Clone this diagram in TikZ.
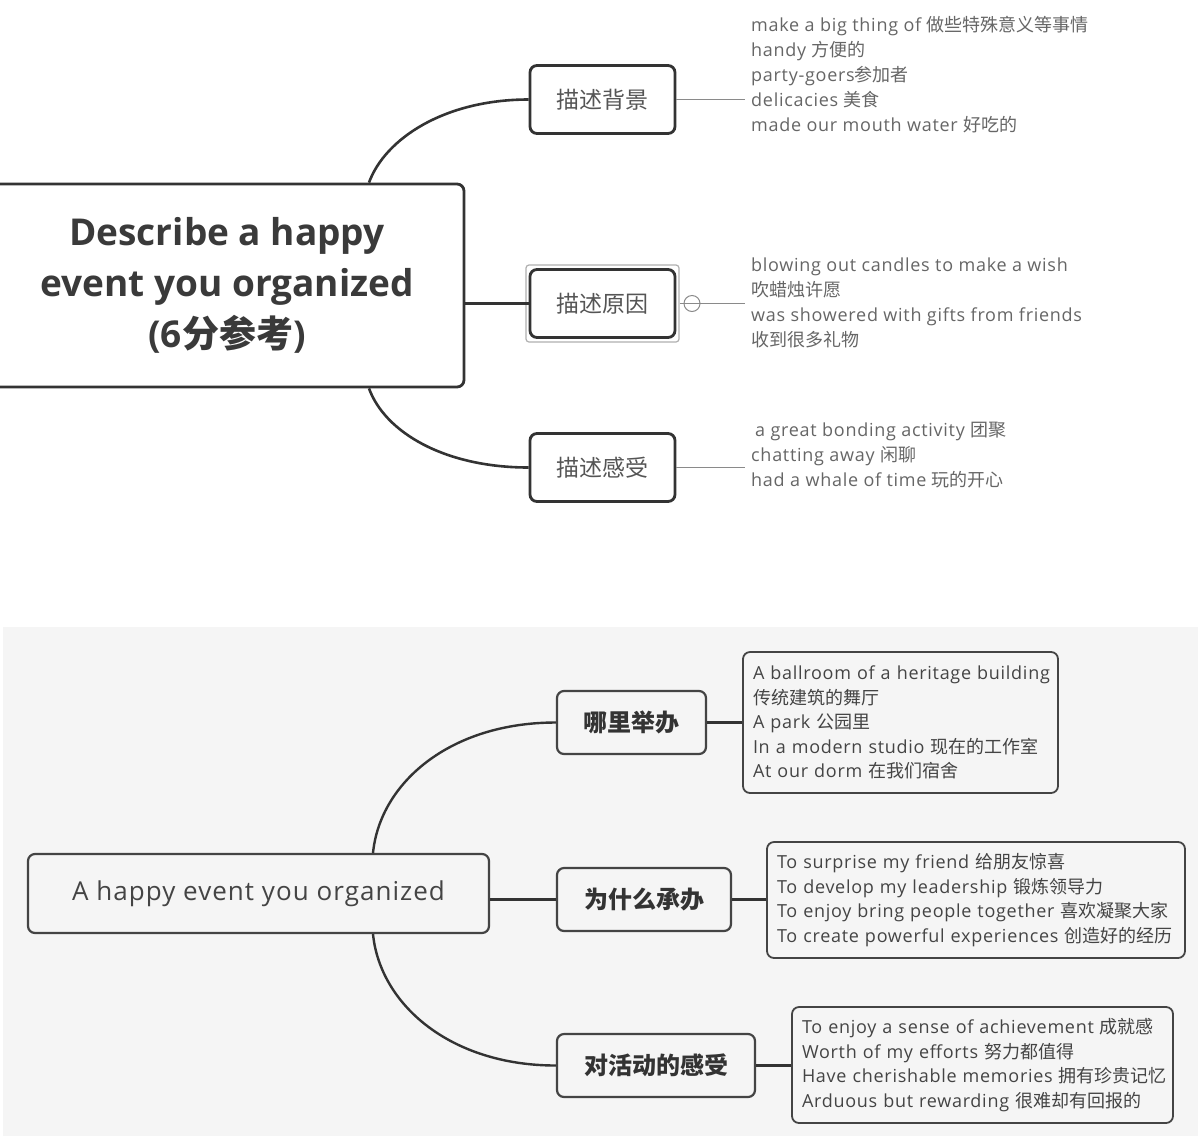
\documentclass[tikz,border=0pt]{standalone}
\usepackage{fontspec}
\setmainfont{Open Sans}
\newfontfamily\spaced{Open Sans}[LetterSpace=4]
\newfontfamily\cjk{Noto Sans CJK SC}
\newcommand\zh[1]{{\cjk #1}}
\definecolor{lnA}{HTML}{333333}
\definecolor{lnB}{HTML}{444444}
\definecolor{thin}{HTML}{8A8A8A}
\definecolor{txtTitle}{HTML}{3A3A3A}
\definecolor{txtTop}{HTML}{555555}
\definecolor{txtSmall}{HTML}{666666}
\definecolor{txtBot}{HTML}{444444}
\definecolor{bgBot}{HTML}{F5F5F5}
\definecolor{selgray}{HTML}{B0B0B0}
\hfuzz=20pt
\begin{document}
\begin{tikzpicture}[x=1pt,y=1pt,
  titlebox/.style={draw=lnA, line width=2.8pt, rounded corners=7pt, fill=white, inner sep=0pt,
    minimum width=474pt, minimum height=203pt, align=center, text=txtTitle,
    font=\bfseries\fontsize{37}{51}\selectfont},
  topbox/.style={draw=lnA, line width=2.8pt, rounded corners=7pt, fill=white, inner sep=0pt,
    minimum width=145pt, minimum height=68pt, text=txtTop, font=\cjk\fontsize{23}{28}\selectfont},
  toptext/.style={anchor=west, align=left, inner xsep=6pt, inner ysep=0pt, text=txtSmall,
    font=\spaced\fontsize{18}{25}\selectfont},
  topconn/.style={draw=lnA, line width=2.6pt},
  thinline/.style={draw=thin, line width=1pt},
  botmain/.style={draw=lnB, line width=2.2pt, rounded corners=7pt, fill=bgBot, inner sep=0pt,
    minimum width=461pt, minimum height=79pt, text=txtBot, font=\spaced\fontsize{26}{30}\selectfont},
  botbox/.style={draw=lnB, line width=2.2pt, rounded corners=7pt, fill=bgBot, inner sep=0pt,
    minimum height=63pt, text=lnA, font=\cjk\bfseries\fontsize{24}{28}\selectfont},
  detbox/.style={draw=lnB, line width=1.8pt, rounded corners=7pt, fill=bgBot, inner xsep=10pt,
    inner ysep=0pt, align=left, text=txtBot, font=\spaced\fontsize{18}{24.5}\selectfont},
  botconn/.style={draw=lnA, line width=2.4pt}]
\useasboundingbox (0,0) rectangle (1198,-1136);
\fill[white] (0,0) rectangle (1198,-1136);
\fill[bgBot] (3,-627) rectangle (1198,-1136);

% ---------------- top mind map ----------------
\node[titlebox] (title) at (227,-285.5) {Describe a happy\\event you organized\\(6\zh{分参考})};
\node[topbox] (tb) at (602.5,-99.5) {描述背景};
\node[topbox] (tr) at (602.5,-303.5) {描述原因};
\node[topbox] (tf) at (602.5,-467.5) {描述感受};
\node[draw=selgray, line width=1.2pt, rounded corners=3pt, minimum width=153pt, minimum height=77pt,
  inner sep=0pt] (trsel) at (602.5,-303.5) {};

\coordinate (tTop) at ([xshift=142pt]title.north);
\coordinate (tBot) at ([xshift=142pt]title.south);
\draw[topconn] (tTop) .. controls +(16,44) and +(-84,0) .. (tb.west);
\draw[topconn] (tBot) .. controls +(16,-44) and +(-84,0) .. (tf.west);
\draw[topconn] (title.east |- tr.west) -- (tr.west);

\node[toptext] (t1) at (745,-75) {make a big thing of \zh{做些特殊意义等事情}\\handy \zh{方便的}\\party-goers\zh{参加者}\\delicacies \zh{美食}\\made our mouth water \zh{好吃的}};
\node[toptext] (t2) at (745,-302.5) {blowing out candles to make a wish\\\zh{吹蜡烛许愿}\\was showered with gifts from friends\\\zh{收到很多礼物}};
\node[toptext] (t3) at (745,-455) {\hspace{4pt}a great bonding activity \zh{团聚}\\chatting away \zh{闲聊}\\had a whale of time \zh{玩的开心}};

\draw[thinline] (tb.east) -- (tb.east -| t1.west);
\draw[thinline] (trsel.east) -- (trsel.east -| t2.west);
\draw[thinline] (tf.east) -- (tf.east -| t3.west);
\node[circle, draw=thin, line width=1pt, minimum size=16pt, inner sep=0pt] (coll) at (692,-303.5) {};
\draw[thinline] (coll.west) -- (coll.east);

% ---------------- bottom mind map ----------------
\node[botmain] (bc) at (258.5,-893.5) {A happy event you organized};
\node[botbox, minimum width=149pt] (b1) at (631.5,-722.5) {哪里举办};
\node[botbox, minimum width=174pt] (b2) at (644,-899.5) {为什么承办};
\node[botbox, minimum width=198pt] (b3) at (656,-1065.5) {对活动的感受};

\node[detbox, text width=295pt, minimum height=141pt] (d1) at (900.5,-722.5)
  {A ballroom of a heritage building\\\zh{传统建筑的舞厅}\\A park \zh{公园里}\\In a modern studio \zh{现在的工作室}\\At our dorm \zh{在我们宿舍}};
\node[detbox, text width=398pt, minimum height=116pt] (d2) at (976,-900)
  {\mbox{To surprise my friend \zh{给朋友惊喜}}\\\mbox{To develop my leadership \zh{锻炼领导力}}\\\mbox{To enjoy bring people together \zh{喜欢凝聚大家}}\\\mbox{To create powerful experiences \zh{创造好的经历}}};
\node[detbox, text width=361pt, minimum height=116pt] (d3) at (982.5,-1065)
  {\mbox{To enjoy a sense of achievement \zh{成就感}}\\\mbox{Worth of my efforts \zh{努力都值得}}\\\mbox{Have cherishable memories \zh{拥有珍贵记忆}}\\\mbox{Arduous but rewarding \zh{很难却有回报的}}};

\coordinate (bTop) at ([xshift=114.5pt]bc.north);
\coordinate (bBot) at ([xshift=114.5pt]bc.south);
\draw[botconn] (bTop) .. controls +(7,70) and +(-106,0) .. (b1.west);
\draw[botconn] (bBot) .. controls +(7,-70) and +(-106,0) .. (b3.west);
\draw[botconn] (bc.east |- b2.west) -- (b2.west);
\draw[botconn] (b1.east) -- (b1.east -| d1.west);
\draw[botconn] (b2.east) -- (b2.east -| d2.west);
\draw[botconn] (b3.east) -- (b3.east -| d3.west);
\end{tikzpicture}
\end{document}
